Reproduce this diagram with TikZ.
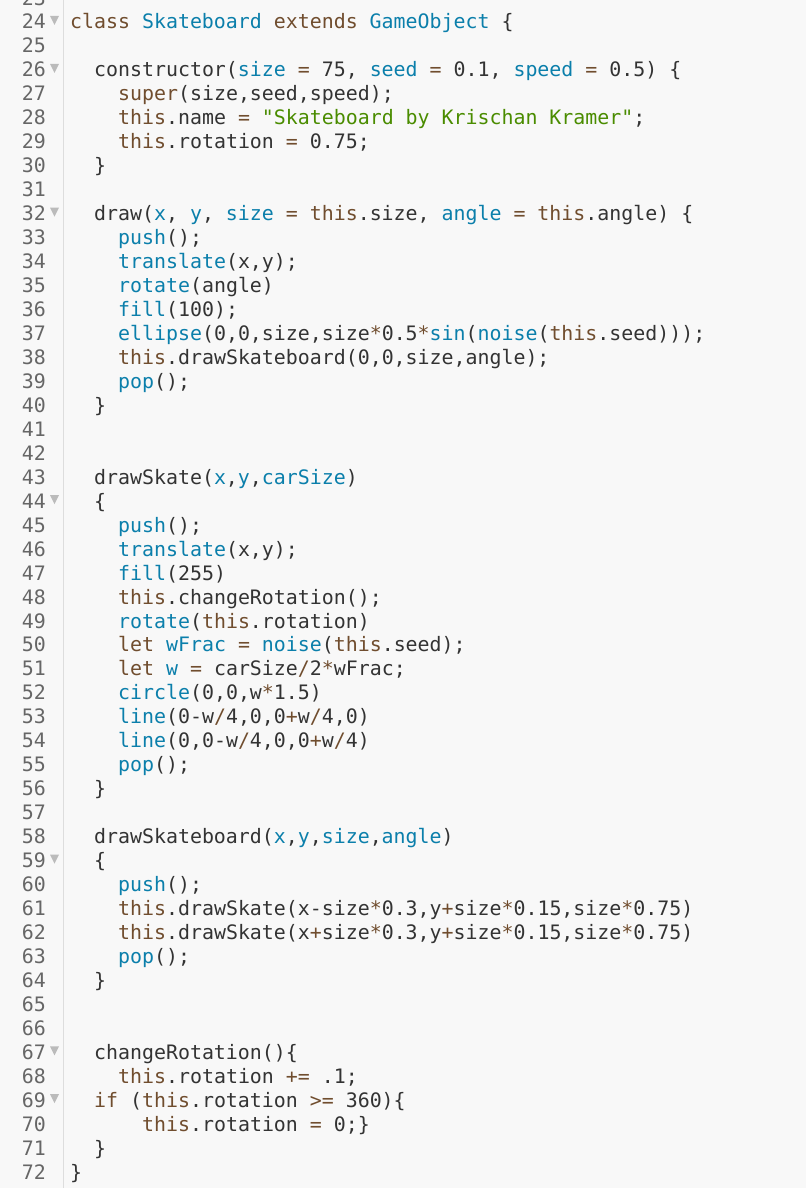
\documentclass[tikz,border=0pt]{standalone}
\usepackage{fontspec}
\setmonofont{DejaVu Sans Mono}
\definecolor{bg}{HTML}{F8F8F8}
\definecolor{kw}{HTML}{704D2E}
\definecolor{id}{HTML}{0B7FAB}
\definecolor{str}{HTML}{4A8C00}
\definecolor{txt}{HTML}{333333}
\definecolor{num}{HTML}{666666}
\definecolor{gut}{HTML}{DDDDDD}
\definecolor{fold}{HTML}{BBBBBB}
\newcommand\K[1]{\textcolor{kw}{#1}}
\newcommand\B[1]{\textcolor{id}{#1}}
\newcommand\G[1]{\textcolor{str}{#1}}
\tikzset{
  code/.style={anchor=base west,inner sep=0pt,text=txt,font=\ttfamily\fontsize{19.9}{24}\selectfont},
  lnum/.style={anchor=base east,inner sep=0pt,text=num,font=\ttfamily\fontsize{19.9}{24}\selectfont},
  foldmark/.style={fill=fold}
}
\newcommand\CL[3]{\node[code] (l#1) at ({70+12*#2},{29+(#1-24)*23.96}) {#3};}
\newcommand\FM[1]{\fill[foldmark] (50,{16+(#1-24)*23.96}) -- (59,{16+(#1-24)*23.96}) -- (54.5,{25+(#1-24)*23.96}) -- cycle;}
\begin{document}
\begin{tikzpicture}[x=1pt,y=-1pt]
\fill[bg] (0,0) rectangle (806,1188);
\useasboundingbox (0,0) rectangle (806,1188);
\draw[gut,line width=1.5pt] (63.5,0) -- (63.5,1188);
\foreach \n in {23,...,72}{\node[lnum] (n\n) at (46,{29+(\n-24)*23.96}) {\n};}
\foreach \n in {24,26,32,44,59,67,69}{\FM{\n}}
\CL{24}{0}{\K{class} \B{Skateboard} \K{extends} \B{GameObject} \{}
\CL{26}{2}{constructor(\B{size} \K{=} 75, \B{seed} \K{=} 0.1, \B{speed} \K{=} 0.5) \{}
\CL{27}{4}{\K{super}(size,seed,speed);}
\CL{28}{4}{\K{this}.name \K{=} \G{"Skateboard by Krischan Kramer"};}
\CL{29}{4}{\K{this}.rotation \K{=} 0.75;}
\CL{30}{2}{\}}
\CL{32}{2}{draw(\B{x}, \B{y}, \B{size} \K{=} \K{this}.size, \B{angle} \K{=} \K{this}.angle) \{}
\CL{33}{4}{\B{push}();}
\CL{34}{4}{\B{translate}(x,y);}
\CL{35}{4}{\B{rotate}(angle)}
\CL{36}{4}{\B{fill}(100);}
\CL{37}{4}{\B{ellipse}(0,0,size,size\K{*}0.5\K{*}\B{sin}(\B{noise}(\K{this}.seed)));}
\CL{38}{4}{\K{this}.drawSkateboard(0,0,size,angle);}
\CL{39}{4}{\B{pop}();}
\CL{40}{2}{\}}
\CL{43}{2}{drawSkate(\B{x},\B{y},\B{carSize})}
\CL{44}{2}{\{}
\CL{45}{4}{\B{push}();}
\CL{46}{4}{\B{translate}(x,y);}
\CL{47}{4}{\B{fill}(255)}
\CL{48}{4}{\K{this}.changeRotation();}
\CL{49}{4}{\B{rotate}(\K{this}.rotation)}
\CL{50}{4}{\K{let} \B{wFrac} \K{=} \B{noise}(\K{this}.seed);}
\CL{51}{4}{\K{let} \B{w} \K{=} carSize\K{/}2\K{*}wFrac;}
\CL{52}{4}{\B{circle}(0,0,w\K{*}1.5)}
\CL{53}{4}{\B{line}(0-w\K{/}4,0,0\K{+}w\K{/}4,0)}
\CL{54}{4}{\B{line}(0,0-w\K{/}4,0,0\K{+}w\K{/}4)}
\CL{55}{4}{\B{pop}();}
\CL{56}{2}{\}}
\CL{58}{2}{drawSkateboard(\B{x},\B{y},\B{size},\B{angle})}
\CL{59}{2}{\{}
\CL{60}{4}{\B{push}();}
\CL{61}{4}{\K{this}.drawSkate(x-size\K{*}0.3,y\K{+}size\K{*}0.15,size\K{*}0.75)}
\CL{62}{4}{\K{this}.drawSkate(x\K{+}size\K{*}0.3,y\K{+}size\K{*}0.15,size\K{*}0.75)}
\CL{63}{4}{\B{pop}();}
\CL{64}{2}{\}}
\CL{67}{2}{changeRotation()\{}
\CL{68}{4}{\K{this}.rotation \K{+=} .1;}
\CL{69}{2}{\K{if} (\K{this}.rotation \K{>=} 360)\{}
\CL{70}{6}{\K{this}.rotation \K{=} 0;\}}
\CL{71}{2}{\}}
\CL{72}{0}{\}}
\end{tikzpicture}
\end{document}
